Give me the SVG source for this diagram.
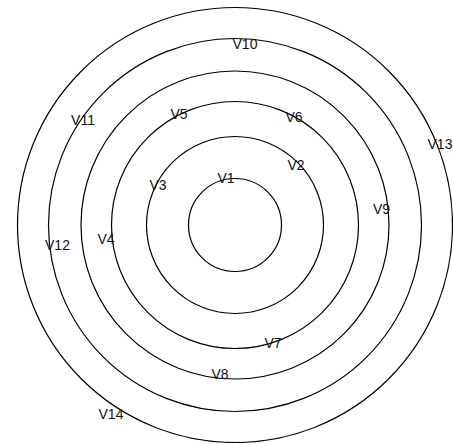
<svg xmlns="http://www.w3.org/2000/svg" width="453" height="443" viewBox="0 0 453 443">
<style>
.ring{fill:none;stroke:#000;stroke-width:1.2}
.lbl{font-family:"Liberation Sans",Arial,sans-serif;font-size:14px;fill:#111;text-anchor:middle}
</style>
<rect width="453" height="443" fill="#fff"/>
<g id="rings">
<circle class="ring" cx="235" cy="225" r="46.5"/>
<circle class="ring" cx="235" cy="225" r="88.5"/>
<circle class="ring" cx="235" cy="225" r="123.5"/>
<circle class="ring" cx="235" cy="225" r="154"/>
<circle class="ring" cx="235" cy="225" r="186.5"/>
<circle class="ring" cx="235" cy="225" r="217.5"/>
</g>
<g id="V1"><text class="lbl" x="226" y="183">V1</text></g>
<g id="V2"><text class="lbl" x="296" y="170">V2</text></g>
<g id="V3"><text class="lbl" x="158" y="190">V3</text></g>
<g id="V4"><text class="lbl" x="106" y="244">V4</text></g>
<g id="V5"><text class="lbl" x="179" y="119">V5</text></g>
<g id="V6"><text class="lbl" x="294" y="122">V6</text></g>
<g id="V7"><text class="lbl" x="273" y="348">V7</text></g>
<g id="V8"><text class="lbl" x="220" y="379">V8</text></g>
<g id="V9"><text class="lbl" x="381.5" y="214">V9</text></g>
<g id="V10"><text class="lbl" x="245" y="49">V10</text></g>
<g id="V11"><text class="lbl" x="83" y="125">V11</text></g>
<g id="V12"><text class="lbl" x="57.5" y="250">V12</text></g>
<g id="V13"><text class="lbl" x="440" y="149">V13</text></g>
<g id="V14"><text class="lbl" x="111" y="419">V14</text></g>
</svg>
